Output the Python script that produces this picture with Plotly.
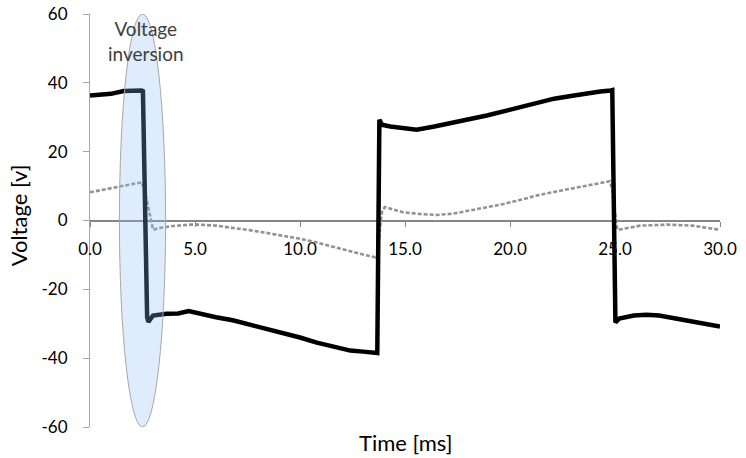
import plotly.graph_objects as go

# --- data ---
t_black = [0.0, 0.5, 1.0, 1.6, 2.0, 2.46, 2.52, 2.72, 2.78, 2.9, 3.0, 3.65, 4.2, 4.7, 5.3, 6.0,
           6.8, 7.6, 8.4, 9.2, 10.0, 10.8, 11.6, 12.4, 13.0, 13.5, 13.68, 13.78, 13.9, 14.3,
           15.0, 15.56, 16.4, 17.3, 18.1, 18.9, 19.7, 20.5, 21.3, 22.1, 22.9, 23.65, 24.3,
           24.8, 24.87, 25.02, 25.2, 25.9, 26.5, 27.1, 27.8, 28.4, 29.2, 30.0]
v_black = [36.3, 36.5, 36.8, 37.6, 37.8, 37.8, 37.6, -28.0, -29.5, -28.6, -27.6, -27.1, -27.0,
           -26.3, -27.2, -28.1, -29.0, -30.2, -31.3, -32.6, -34.0, -35.5, -36.6, -37.8, -38.1,
           -38.3, -38.5, 29.3, 27.8, 27.3, 26.9, 26.4, 27.3, 28.6, 29.5, 30.5, 31.8, 33.1, 34.2,
           35.4, 36.2, 37.0, 37.5, 37.8, 37.9, -29.6, -28.5, -27.6, -27.4, -27.6, -28.3, -29.1,
           -29.9, -30.8]

t_gray = [0.0, 0.8, 1.6, 2.46, 2.6, 2.94, 3.0, 3.3, 3.95, 4.76, 5.24, 6.0, 6.8, 7.6, 8.4, 9.2,
          10.0, 10.8, 11.6, 12.4, 13.0, 13.6, 13.68, 13.85, 13.92, 14.05, 14.9, 15.7, 16.5,
          17.3, 18.1, 18.9, 19.7, 20.5, 21.3, 22.1, 22.9, 23.65, 24.4, 24.75, 24.85, 25.1,
          25.15, 26.2, 27.5, 28.7, 30.0]
v_gray = [8.2, 9.2, 10.2, 11.1, 9.0, -1.9, -2.7, -2.2, -1.6, -1.2, -1.2, -1.5, -2.1, -2.8, -3.6,
          -4.4, -5.3, -6.4, -7.7, -9.0, -9.9, -10.7, -10.5, 0.0, 3.0, 3.9, 2.4, 1.9, 1.6, 2.0,
          2.9, 3.8, 4.8, 6.0, 7.3, 8.3, 9.2, 10.2, 11.1, 11.4, 9.5, -2.5, -2.7, -1.5, -1.2,
          -1.5, -2.7]

x_ticks = [0, 5, 10, 15, 20, 25, 30]
x_ticktext = ["0.0", "5.0", "10.0", "15.0", "20.0", "25.0", "30.0"]
y_ticks = [-60, -40, -20, 0, 20, 40, 60]
y_ticktext = ["-60", "-40", "-20", "0", "20", "40", "60"]

FONT = "Lato"

fig = go.Figure()
fig.add_trace(go.Scatter(x=t_gray, y=v_gray, mode="lines",
                         line=dict(color="#929292", width=2.6, dash="4px,2px"),
                         showlegend=False, hoverinfo="skip"))
fig.add_trace(go.Scatter(x=t_black, y=v_black, mode="lines",
                         line=dict(color="#000000", width=4.5),
                         showlegend=False, hoverinfo="skip"))

# highlight ellipse
fig.add_shape(type="circle", xref="x", yref="y", x0=1.4, x1=3.6, y0=-60, y1=60,
              fillcolor="rgba(140,185,240,0.28)",
              line=dict(color="#a8a8a8", width=1), layer="above")

fig.add_annotation(x=2.65, y=52.3, xref="x", yref="y", text="Voltage<br>inversion",
                   showarrow=False, font=dict(family=FONT, size=19, color="#404040"))

fig.add_annotation(x=0.5, y=-0.037, xref="paper", yref="paper",
                   xanchor="center", yanchor="middle",
                   text="Time [ms]", showarrow=False,
                   font=dict(family=FONT, size=22, color="#000000"))
fig.add_annotation(x=-0.114, y=0.513, xref="paper", yref="paper", textangle=-90,
                   xanchor="center", yanchor="middle",
                   text="Voltage [v]", showarrow=False,
                   font=dict(family=FONT, size=22, color="#000000"))

fig.update_layout(
    width=746, height=458,
    margin=dict(l=90, r=26, t=14, b=31, autoexpand=False),
    plot_bgcolor="white", paper_bgcolor="white",
    font=dict(family=FONT, size=17, color="#000000"),
    xaxis=dict(range=[0, 30], anchor="free", position=0.5, automargin=False,
               tickvals=x_ticks, ticktext=x_ticktext,
               showline=True, linecolor="#868686", linewidth=2,
               ticks="outside", ticklen=5, tickcolor="#868686", tickwidth=1,
               showgrid=False, zeroline=False, layer="below traces",
               ticklabelstandoff=8),
    yaxis=dict(range=[-60, 60], tickvals=y_ticks, ticktext=y_ticktext, automargin=False,
               showline=True, linecolor="#a6a6a6", linewidth=1,
               ticks="outside", ticklen=6, tickcolor="#a6a6a6",
               showgrid=False, zeroline=False, layer="below traces",
               ticklabelstandoff=12),
)

fig.write_html("out.html")
